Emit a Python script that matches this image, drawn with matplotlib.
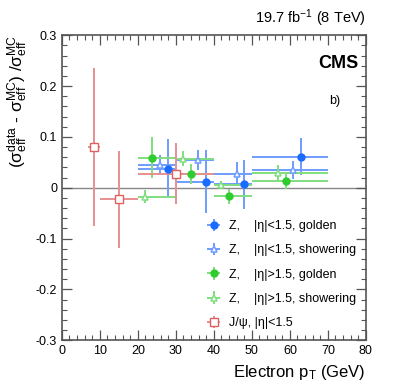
import matplotlib
matplotlib.use("Agg")
import matplotlib.pyplot as plt
from matplotlib.ticker import MultipleLocator

plt.rcParams['font.family'] = ['Liberation Sans', 'DejaVu Sans']
plt.rcParams['mathtext.fontset'] = 'custom'
plt.rcParams['mathtext.rm'] = 'Liberation Sans'
plt.rcParams['mathtext.it'] = 'Liberation Sans'

# ---- data ----
# Z, |eta|<1.5, golden
zbg_x = [28.0, 37.9, 47.9, 62.9]
zbg_xlo = [20, 30, 40, 50]
zbg_xhi = [30, 40, 50, 70]
zbg_y = [0.037, 0.012, 0.007, 0.061]
zbg_e = [0.058, 0.062, 0.048, 0.037]
# Z, |eta|<1.5, showering
zbs_x = [25.8, 35.8, 46.0, 60.8]
zbs_y = [0.045, 0.055, 0.027, 0.035]
zbs_e = [0.020, 0.020, 0.024, 0.018]
# Z, |eta|>1.5, golden
zeg_x = [23.7, 33.9, 43.9, 58.9]
zeg_y = [0.059, 0.027, -0.017, 0.014]
zeg_e = [0.040, 0.020, 0.015, 0.016]
# Z, |eta|>1.5, showering
zes_x = [21.8, 31.8, 41.8, 56.8]
zes_y = [-0.018, 0.057, 0.006, 0.029]
zes_e = [0.013, 0.015, 0.008, 0.016]
# J/psi
jp_x = [8.5, 15.0, 30.0]
jp_xlo = [7, 10, 20]
jp_xhi = [10, 20, 40]
jp_y = [0.080, -0.023, 0.027]
jp_e = [0.155, 0.095, 0.060]

labels = ["Z,    |η|<1.5, golden", "Z,    |η|<1.5, showering",
          "Z,    |η|>1.5, golden", "Z,    |η|>1.5, showering",
          "J/ψ, |η|<1.5"]

fig = plt.figure(figsize=(4.07, 3.91), dpi=100)
ax = fig.add_axes([0.152, 0.130, 0.747, 0.780])

blue_m = "#1a6cff"
blue_l = "#6f9dff"
green_m = "#2ecc2e"
green_l = "#80dd80"
red_m = "#e06060"
red_l = "#e89090"

def xerr(x, lo, hi):
    return [[xi - l for xi, l in zip(x, lo)], [h - xi for xi, h in zip(x, hi)]]

ax.axhline(0, color="#888888", lw=1.0, zorder=1)

h1 = ax.errorbar(zbg_x, zbg_y, yerr=zbg_e, xerr=xerr(zbg_x, zbg_xlo, zbg_xhi),
                 fmt="o", color=blue_m, ecolor=blue_l, elinewidth=1.4, ms=5,
                 mfc=blue_m, mec=blue_m, capsize=0, zorder=5)
h2 = ax.errorbar(zbs_x, zbs_y, yerr=zbs_e, xerr=xerr(zbs_x, zbg_xlo, zbg_xhi),
                 fmt="^", color=blue_m, ecolor=blue_l, elinewidth=1.4, ms=5,
                 mfc="white", mec=blue_l, mew=1.1, capsize=0, zorder=5)
h3 = ax.errorbar(zeg_x, zeg_y, yerr=zeg_e, xerr=xerr(zeg_x, zbg_xlo, zbg_xhi),
                 fmt="o", color=green_m, ecolor=green_l, elinewidth=1.4, ms=5,
                 mfc=green_m, mec=green_m, capsize=0, zorder=5)
h4 = ax.errorbar(zes_x, zes_y, yerr=zes_e, xerr=xerr(zes_x, zbg_xlo, zbg_xhi),
                 fmt="^", color=green_m, ecolor=green_l, elinewidth=1.4, ms=5,
                 mfc="white", mec=green_l, mew=1.1, capsize=0, zorder=5)
h5 = ax.errorbar(jp_x, jp_y, yerr=jp_e, xerr=xerr(jp_x, jp_xlo, jp_xhi),
                 fmt="s", color=red_m, ecolor=red_l, elinewidth=1.4, ms=5.5,
                 mfc="white", mec=red_m, mew=1.0, capsize=0, zorder=5)

ax.set_xlim(0, 80)
ax.set_ylim(-0.3, 0.3)
ax.xaxis.set_major_locator(MultipleLocator(10))
ax.xaxis.set_minor_locator(MultipleLocator(2))
ax.yaxis.set_major_locator(MultipleLocator(0.1))
ax.yaxis.set_minor_locator(MultipleLocator(0.02))
ax.tick_params(which="both", direction="in", top=True, right=True,
               labelsize=9, color="#555555")
ax.tick_params(which="major", length=7, width=0.9)
ax.tick_params(which="minor", length=3.5, width=0.8)
ax.set_yticks([-0.3, -0.2, -0.1, 0, 0.1, 0.2, 0.3])
ax.set_yticklabels(["-0.3", "-0.2", "-0.1", "0", "0.1", "0.2", "0.3"])
for s in ax.spines.values():
    s.set_color("#555555")
    s.set_linewidth(1.2)

ax.set_xlabel(r"Electron p$_\mathregular{T}$ (GeV)", fontsize=12, loc="right")
ax.set_ylabel(r"($\mathregular{\sigma^{data}_{eff}}$ - $\mathregular{\sigma^{MC}_{eff}}$) /$\mathregular{\sigma^{MC}_{eff}}$",
              fontsize=12.5, loc="top")

ax.text(1.0, 1.02, r"19.7 fb$^{\mathregular{-1}}$ (8 TeV)", transform=ax.transAxes,
        ha="right", va="bottom", fontsize=10.5)
ax.text(0.975, 0.935, "CMS", transform=ax.transAxes, ha="right", va="top",
        fontsize=13, fontweight="bold")
ax.text(0.88, 0.785, "b)", transform=ax.transAxes, ha="left", va="center",
        fontsize=9)

leg = ax.legend([h1, h2, h3, h4, h5], labels, loc="upper left",
                bbox_to_anchor=(0.45, 0.41), frameon=False, fontsize=9,
                handlelength=1.6, labelspacing=0.98, handletextpad=0.4,
                borderaxespad=0)

fig.savefig("out.png", dpi=100)
